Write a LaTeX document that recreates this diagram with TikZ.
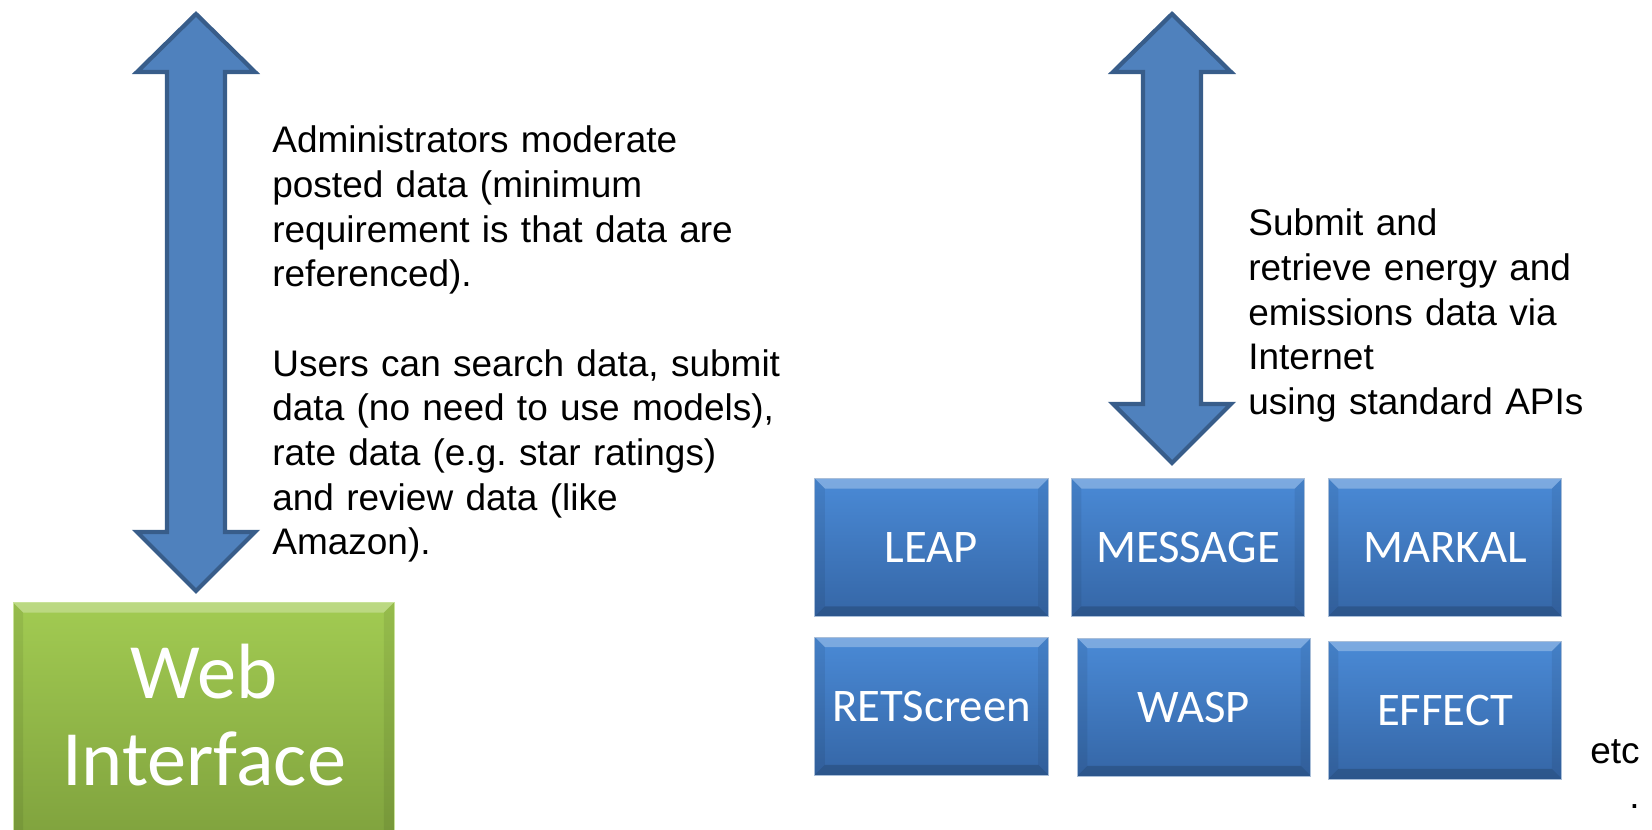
\documentclass[tikz,border=0pt]{standalone}
\usepackage{fontspec}
\setmainfont{Liberation Sans}
\newfontfamily\calibrifont{Carlito}
\usetikzlibrary{%
	calc,%
	positioning
}
\definecolor{arrowfill}{HTML}{4F81BD}
\definecolor{arrowrim}{HTML}{385D8A}
\definecolor{modeltop}{HTML}{4A8AD6}
\definecolor{modelbot}{HTML}{3566A6}
\definecolor{modelrim}{HTML}{A9BED8}
\definecolor{webtop}{HTML}{A2CB52}
\definecolor{webbot}{HTML}{7D9F3C}
\definecolor{webrim}{HTML}{C9E29A}
\def\ppb{path picture bounding box}

\tikzset{
	bevel/.style={path picture={
		\fill[white,opacity=0.28] (\ppb.north west) -- (\ppb.north east) -- ($(\ppb.north east)+(-10,10)$) -- ($(\ppb.north west)+(10,10)$) -- cycle;
		\fill[black,opacity=0.16] (\ppb.south west) -- (\ppb.south east) -- ($(\ppb.south east)+(-10,-10)$) -- ($(\ppb.south west)+(10,-10)$) -- cycle;
		\fill[black,opacity=0.07] (\ppb.north west) -- ($(\ppb.north west)+(10,10)$) -- ($(\ppb.south west)+(10,-10)$) -- (\ppb.south west) -- cycle;
		\fill[black,opacity=0.07] (\ppb.north east) -- ($(\ppb.north east)+(-10,10)$) -- ($(\ppb.south east)+(-10,-10)$) -- (\ppb.south east) -- cycle;
	}},
	modelbox/.style={bevel, draw=modelrim, line width=0.5pt, top color=modeltop, bottom color=modelbot,
		minimum width=4.67cm, minimum height=2.76cm, inner sep=0pt, text=white,
		font=\calibrifont\fontsize{26.6}{30}\selectfont},
	webbox/.style={bevel, draw=webrim, line width=0.5pt, top color=webtop, bottom color=webbot,
		minimum width=7.62cm, minimum height=5.1cm, inner sep=0pt},
	blockarrow/.style={fill=arrowfill, draw=arrowrim, line width=2.4pt, line join=miter},
	note/.style={inner sep=0pt, align=left, font=\frenchspacing\fontsize{21.05}{25.4}\selectfont}
}

\begin{document}
\begin{tikzpicture}[x=0.02cm, y=-0.02cm]
	\path[use as bounding box, clip] (0,0) rectangle (1652,830);

	% Double arrows
	\draw[blockarrow] (196,14) -- (255,72) -- (225,72) -- (225,532) -- (255,532) -- (196,591)
		-- (137,532) -- (167,532) -- (167,72) -- (137,72) -- cycle;
	\draw[blockarrow] (1172,14) -- (1231,72) -- (1201,72) -- (1201,404) -- (1231,404) -- (1172,463)
		-- (1113,404) -- (1143,404) -- (1143,72) -- (1113,72) -- cycle;

	% Web interface
	\node[webbox] (web) at (203.5,730) {};
	\node[anchor=base, inner sep=0pt, align=center, text=white,
		font=\calibrifont\fontsize{44.6}{49.5}\selectfont] (webtext) at (204,785) {Web\\Interface};

	% Models
	\node[modelbox] (leap) at (931.5,547.5) {LEAP};
	\node[modelbox] (message) at (1188,547.5) {MESSAGE};
	\node[modelbox] (markal) at (1445,547.5) {MARKAL};
	\node[modelbox] (retscreen) at (931.5,706) {RETScreen};
	\node[modelbox] (wasp) at (1194,707) {WASP};
	\node[modelbox] (effect) at (1445,710) {EFFECT};

	% Texts
	\node[note, anchor=base west, text width=10.8cm] (admintext) at (272,153) {%
		Administrators moderate\\
		posted data (minimum\\
		requirement is that data are\\
		referenced).\\[25.4pt]
		Users can search data, submit\\
		data (no need to use models),\\
		rate data (e.g.\ star ratings)\\
		and review data (like\\
		Amazon).};
	\node[note, anchor=base west, text width=7.8cm] (apitext) at (1248,236) {%
		Submit and\\
		retrieve energy and\\
		emissions data via\\
		Internet\\
		using standard APIs};
	\node[note, anchor=base east, align=right] (etc) at (1640,808.6) {etc\\.};
\end{tikzpicture}
\end{document}
